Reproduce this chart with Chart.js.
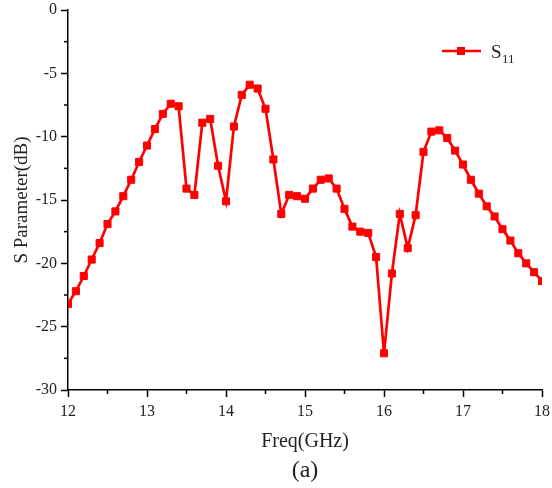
<!DOCTYPE html>
<html>
<head>
  <title>S11</title>
  <script src="https://cdn.jsdelivr.net/npm/chart.js@4/dist/chart.umd.min.js"></script>
  <style>
    html, body { margin: 0; padding: 0; background: #fff; }
    #wrap { width: 552px; height: 488px; }
  </style>
</head>
<body>
  <div id="wrap"><canvas id="sChart" width="552" height="488"></canvas></div>
  <script>
    // frequency points (GHz) and S11 (dB)
    const freq = [
      12.0, 12.1, 12.2, 12.3, 12.4, 12.5, 12.6, 12.7, 12.8, 12.9,
      13.0, 13.1, 13.2, 13.3, 13.4, 13.5, 13.6, 13.7, 13.8, 13.9,
      14.0, 14.1, 14.2, 14.3, 14.4, 14.5, 14.6, 14.7, 14.8, 14.9,
      15.0, 15.1, 15.2, 15.3, 15.4, 15.5, 15.6, 15.7, 15.8, 15.9,
      16.0, 16.1, 16.2, 16.3, 16.4, 16.5, 16.6, 16.7, 16.8, 16.9,
      17.0, 17.1, 17.2, 17.3, 17.4, 17.5, 17.6, 17.7, 17.8, 17.9, 18.0
    ];
    const s11 = [
      -23.2, -22.2, -21.0, -19.7, -18.4, -16.9, -15.9, -14.7, -13.4, -12.0,
      -10.7, -9.4, -8.2, -7.4, -7.6, -14.1, -14.6, -8.9, -8.6, -12.3,
      -15.1, -9.2, -6.7, -5.9, -6.2, -7.8, -11.8, -16.1, -14.6, -14.7,
      -14.9, -14.1, -13.4, -13.3, -14.1, -15.7, -17.1, -17.5, -17.6, -19.5,
      -27.1, -20.8, -16.1, -18.8, -16.2, -11.2, -9.6, -9.5, -10.1, -11.1,
      -12.2, -13.4, -14.5, -15.5, -16.3, -17.3, -18.2, -19.2, -20.0, -20.7, -21.4
    ];
    const xTicks = [12, 13, 14, 15, 16, 17, 18];
    const yTicks = [-30, -25, -20, -15, -10, -5, 0];

    const serif = 'Liberation Serif, Times New Roman, serif';
    const majorColor = ctx => (ctx.tick && ctx.tick.label !== '') ? '#000' : 'rgba(0,0,0,0)';

    // short ticks between the labelled ones, legend and caption
    const extras = {
      id: 'extras',
      afterDraw(chart) {
        const ctx = chart.ctx;
        const xs = chart.scales.x, ys = chart.scales.y;
        ctx.save();
        ctx.strokeStyle = '#000';
        ctx.lineWidth = 1.5;
        xs.ticks.forEach(t => {
          if (xTicks.includes(t.value)) return;
          const px = xs.getPixelForValue(t.value);
          ctx.beginPath();
          ctx.moveTo(px, ys.bottom);
          ctx.lineTo(px, ys.bottom + 4);
          ctx.stroke();
        });
        ys.ticks.forEach(t => {
          if (yTicks.includes(t.value)) return;
          const py = ys.getPixelForValue(t.value);
          ctx.beginPath();
          ctx.moveTo(xs.left, py);
          ctx.lineTo(xs.left - 4, py);
          ctx.stroke();
        });

        // legend
        ctx.strokeStyle = '#ff0000';
        ctx.lineWidth = 2.5;
        ctx.beginPath();
        ctx.moveTo(442, 51);
        ctx.lineTo(481, 51);
        ctx.stroke();
        ctx.fillStyle = '#ff0000';
        ctx.fillRect(457, 47, 8, 8);
        ctx.fillStyle = '#222';
        ctx.textAlign = 'left';
        ctx.textBaseline = 'alphabetic';
        ctx.font = '19px ' + serif;
        ctx.fillText('S', 491, 58);
        ctx.font = '13px ' + serif;
        ctx.fillText('11', 502, 63);

        // caption
        ctx.font = '24px ' + serif;
        ctx.textAlign = 'center';
        ctx.textBaseline = 'middle';
        ctx.fillText('(a)', (xs.left + xs.right) / 2, 471);
        ctx.restore();
      }
    };

    new Chart(document.getElementById('sChart'), {
      type: 'line',
      data: {
        datasets: [{
          label: 'S11',
          data: freq.map((f, i) => ({ x: f, y: s11[i] })),
          borderColor: '#ff0000',
          backgroundColor: '#ff0000',
          borderWidth: 2.7,
          pointStyle: 'rect',
          pointRadius: 5,
          pointBorderWidth: 1,
          tension: 0,
          fill: false
        }]
      },
      options: {
        responsive: false,
        animation: false,
        layout: { padding: { left: 0, right: 10, top: 10, bottom: 0 } },
        plugins: { legend: { display: false }, tooltip: { enabled: false } },
        scales: {
          x: {
            type: 'linear',
            min: 12,
            max: 18,
            afterFit: s => { s.height = 98; s.paddingLeft = 0; s.paddingRight = 0; },
            border: { color: '#000', width: 1.5 },
            grid: { drawOnChartArea: false, tickLength: 7, tickWidth: 1.5, tickColor: majorColor },
            ticks: {
              stepSize: 0.5,
              autoSkip: false,
              maxRotation: 0,
              padding: 5,
              color: '#222',
              font: { family: serif, size: 16 },
              callback: v => xTicks.includes(v) ? String(v) : ''
            },
            title: {
              display: true,
              text: 'Freq(GHz)',
              color: '#222',
              font: { family: serif, size: 20 },
              padding: { top: 0, bottom: 34 }
            }
          },
          y: {
            min: -30,
            max: 0,
            afterFit: s => { s.width = 68; s.paddingTop = 0; s.paddingBottom = 0; },
            border: { color: '#000', width: 1.5 },
            grid: { drawOnChartArea: false, tickLength: 7, tickWidth: 1.5, tickColor: majorColor },
            ticks: {
              stepSize: 2.5,
              autoSkip: false,
              padding: 4,
              color: '#222',
              font: { family: serif, size: 16 },
              callback: v => yTicks.includes(v) ? String(v) : ''
            },
            title: {
              display: true,
              text: 'S Parameter(dB)',
              color: '#222',
              font: { family: serif, size: 19 },
              padding: { top: 11, bottom: 0 }
            }
          }
        }
      },
      plugins: [extras]
    });
  </script>
</body>
</html>
